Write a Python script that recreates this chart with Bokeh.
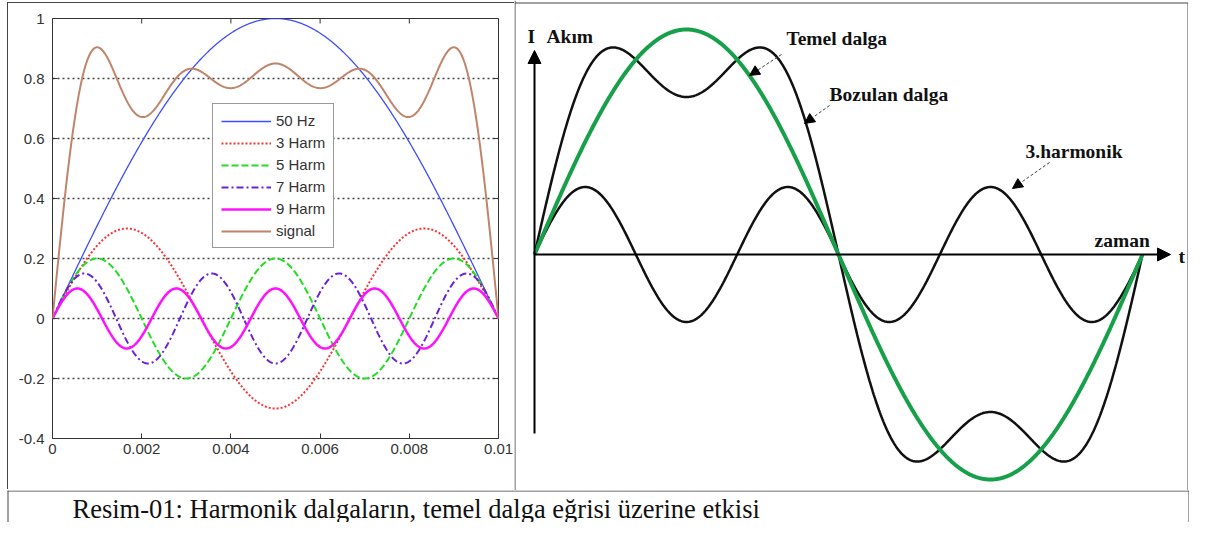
import numpy as np
from bokeh.plotting import figure
from bokeh.layouts import row, column
from bokeh.models import Range1d, Legend, LegendItem, Label, Arrow, NormalHead, FixedTicker
from bokeh.embed import file_html
from bokeh.resources import INLINE

# ---------------- data: left panel (harmonics of a 50 Hz half wave) ----------------
f0 = 50.0
t_span = [0.0, 0.01]
harm_order = [1, 3, 5, 7, 9]
harm_amp = [1.0, 0.3, 0.2, 0.15, 0.1]
series_names = ["50 Hz", "3 Harm", "5 Harm", "7 Harm", "9 Harm", "signal"]
x_ticks = [0, 0.002, 0.004, 0.006, 0.008, 0.01]
x_tick_labels = ["0", "0.002", "0.004", "0.006", "0.008", "0.01"]
y_ticks = [-0.4, -0.2, 0, 0.2, 0.4, 0.6, 0.8, 1]
y_tick_labels = ["-0.4", "-0.2", "0", "0.2", "0.4", "0.6", "0.8", "1"]

# ---------------- data: right panel (schematic) ----------------
fund_amp = 1.0
third_order = 3
third_amp = 0.3
caption = "Resim-01: Harmonik dalgaların, temel dalga eğrisi üzerine etkisi"

# ---------------- styles ----------------
colors = ["#3d4dff", "#ff3030", "#22dd22", "#6a22d8", "#ff10ff", "#c0846a"]
dashes = ["solid", "2 2", "7 3", "7 3 2 3", "solid", "solid"]
widths = [1.3, 2, 2, 2, 2.5, 2]
SANS = "Liberation Sans"
SERIF = "Liberation Serif"
FRAME = "#444444"

# ---------------- left figure ----------------
left = figure(width=507, height=487, x_range=Range1d(*t_span), y_range=Range1d(-0.4, 1),
              output_backend="svg", toolbar_location=None, frame_align=False,
              min_border_left=44, min_border_right=17, min_border_top=15, min_border_bottom=52,
              margin=(2, 0, 0, 7))
left.styles = {"border-left": "1px solid " + FRAME, "border-top": "1px solid " + FRAME}
left.background_fill_color = "white"
left.border_fill_color = "white"
left.outline_line_color = "#333333"
left.outline_line_width = 1

for ax in (left.xaxis[0], left.yaxis[0]):
    ax.axis_line_color = None
    ax.major_tick_in = 5
    ax.major_tick_out = 0
    ax.minor_tick_line_color = None
    ax.major_tick_line_color = "#333333"
    ax.major_label_text_font = SANS
    ax.major_label_text_font_size = "15px"
    ax.major_label_text_color = "#333333"

left.xaxis.ticker = FixedTicker(ticks=x_ticks)
left.xaxis.major_label_overrides = dict(zip(x_ticks, x_tick_labels))
left.xaxis.major_label_standoff = 5
left.yaxis.ticker = FixedTicker(ticks=y_ticks)
left.yaxis.major_label_overrides = dict(zip(y_ticks, y_tick_labels))
left.yaxis.major_label_standoff = 8

left.xgrid.visible = False
left.ygrid.grid_line_color = "#444444"
left.ygrid.grid_line_dash = "2 3"
left.ygrid.grid_line_width = 1.3

# inner ticks on top and right edges (mirror MATLAB box ticks)
ty = 5 * 1.4 / 420
tx = 5 * 0.01 / 446
left.segment(x0=x_ticks, y0=[1] * len(x_ticks), x1=x_ticks, y1=[1 - ty] * len(x_ticks),
             line_color="#333333", line_width=1)
left.segment(x0=[0.01] * len(y_ticks), y0=y_ticks, x1=[0.01 - tx] * len(y_ticks), y1=y_ticks,
             line_color="#333333", line_width=1)

t = np.linspace(t_span[0], t_span[1], 600)
comps = [a * np.sin(2 * np.pi * f0 * n * t) for n, a in zip(harm_order, harm_amp)]
signal = np.sum(comps, axis=0)
all_series = comps + [signal]

items = []
for name, ys, c, d, w in zip(series_names, all_series, colors, dashes, widths):
    r = left.line(t, ys, line_color=c, line_dash=d, line_width=w)
    items.append(LegendItem(label=name, renderers=[r]))

legend = Legend(items=items, location=(160, 190))
legend.label_text_font = SANS
legend.label_text_font_size = "15px"
legend.label_text_color = "#333333"
legend.glyph_width = 50
legend.glyph_height = 16
legend.label_height = 16
legend.label_standoff = 5
legend.spacing = 5
legend.padding = 8
legend.margin = 0
legend.border_line_color = "#333333"
legend.border_line_width = 1
legend.background_fill_color = "white"
legend.background_fill_alpha = 1
left.add_layout(legend)

# ---------------- right figure (schematic) ----------------
X0, PER, Y0, AMP = 535.0, 608.0, 254.0, 225.0   # pixel layout of the sketch
RX0, RX1, RY0, RY1 = 515.0, 1189.0, 0.0, 490.0   # pixel extent of the right panel


def px(xp):
    return (xp - X0) / PER


def py(yp):
    return (Y0 - yp) / AMP


right = figure(width=int(RX1 - RX0), height=int(RY1 - RY0),
               x_range=Range1d(px(RX0), px(RX1)), y_range=Range1d(py(RY1), py(RY0)),
               output_backend="svg", toolbar_location=None, frame_align=False,
               min_border=0, min_border_left=0, min_border_right=0, min_border_top=0, min_border_bottom=0)
right.axis.visible = False
right.grid.visible = False
right.outline_line_color = None
right.background_fill_color = "white"
right.border_fill_color = "white"

# panel frame: separator (left), top and right edges
right.segment(x0=[px(515.5), px(515.5), px(1188.5)], y0=[py(0), py(2.5), py(2.5)],
              x1=[px(515.5), px(1188.5), px(1188.5)], y1=[py(490), py(2.5), py(490)],
              line_color=FRAME, line_width=1)

ph = np.linspace(0, 1, 700)
fund = fund_amp * np.sin(2 * np.pi * ph)
third = third_amp * np.sin(2 * np.pi * third_order * ph)
distorted = fund + third

right.line(ph, third, line_color="#111111", line_width=2.5)
right.line(ph, distorted, line_color="#111111", line_width=2.5)
right.line(ph, fund, line_color="#17a04a", line_width=4)

# coordinate arrows
right.add_layout(Arrow(x_start=0, y_start=py(433), x_end=0, y_end=py(50), line_width=2, line_color="black",
                       end=NormalHead(size=13, fill_color="black", line_color="black")))
right.add_layout(Arrow(x_start=0, y_start=0, x_end=px(1171), y_end=0, line_width=2, line_color="black",
                       end=NormalHead(size=13, fill_color="black", line_color="black")))

# pointer arrows
for (xs, ys, xe, ye) in [(782, 54, 750, 75), (830, 105, 805, 123), (1050, 162, 1013, 188)]:
    right.add_layout(Arrow(x_start=px(xs), y_start=py(ys), x_end=px(xe), y_end=py(ye),
                           line_width=1, line_color="#444444", line_dash="3 2",
                           end=NormalHead(size=10, fill_color="black", line_color="black")))

for txt, xp, yp in [("I", 528, 36), ("Akım", 547, 36), ("Temel dalga", 787, 38),
                    ("Bozulan dalga", 830, 94), ("3.harmonik", 1026, 151),
                    ("zaman", 1095, 240), ("t", 1179, 256)]:
    right.add_layout(Label(x=px(xp), y=py(yp), text=txt, text_font=SERIF, text_font_style="bold",
                           text_font_size="19.5px", text_color="#111111",
                           text_align="left", text_baseline="middle"))

# ---------------- caption ----------------
CAP_H = 32
cap = figure(width=1189, height=CAP_H, x_range=Range1d(0, 1189), y_range=Range1d(0, CAP_H),
             output_backend="svg", toolbar_location=None, frame_align=False,
             min_border=0, min_border_left=0, min_border_right=0, min_border_top=0, min_border_bottom=0)
cap.axis.visible = False
cap.grid.visible = False
cap.outline_line_color = None
cap.background_fill_color = "white"
cap.border_fill_color = "white"
cap.segment(x0=[7, 7.5, 1188.5], y0=[CAP_H - 0.5, 0, 0], x1=[1189, 7.5, 1188.5], y1=[CAP_H - 0.5, CAP_H, CAP_H],
            line_color=FRAME, line_width=1)
cap.add_layout(Label(x=72, y=14, text=caption, text_font=SERIF, text_font_size="26.5px",
                     text_color="#111111", text_align="left", text_baseline="middle"))

layout = column(row(left, right), cap)

open("out.html", "w").write(file_html(layout, INLINE))
